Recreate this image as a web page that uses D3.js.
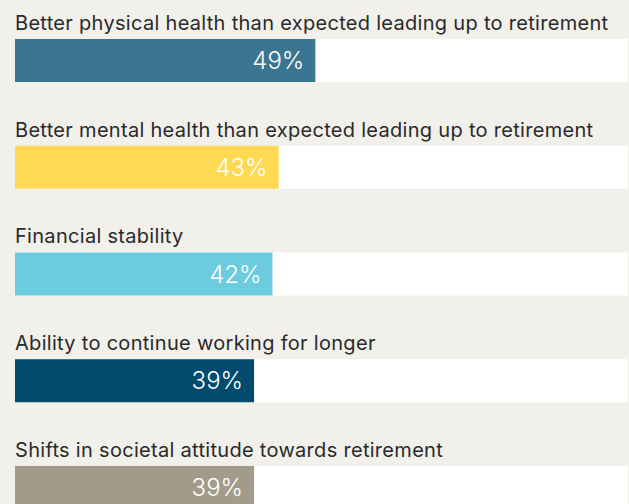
<!DOCTYPE html>
<html>
<head>
<meta charset="utf-8">
<script src="https://cdn.jsdelivr.net/npm/d3@7"></script>
<style>
  html, body { margin: 0; padding: 0; background: #f1f0eb; }
  svg { display: block; }
  .label { font-family: Inter, "Open Sans", sans-serif; font-size: 20px; letter-spacing: 0.3px; fill: #2a2a2a; }
  .value { font-family: Inter, "Open Sans", sans-serif; font-size: 24px; font-weight: 300; fill: #ffffff; }
</style>
</head>
<body>
<div id="chart"></div>
<script>
const categories = [
  "Better physical health than expected leading up to retirement",
  "Better mental health than expected leading up to retirement",
  "Financial stability",
  "Ability to continue working for longer",
  "Shifts in societal attitude towards retirement"
];
const values = [49, 43, 42, 39, 39];
const colors = ["#3a768f", "#ffd952", "#6dcbdf", "#004b6e", "#a39b8a"];

const width = 629, height = 504;
const left = 15, right = 628;

const svg = d3.select("#chart").append("svg")
  .attr("width", width)
  .attr("height", height);

const x = d3.scaleLinear().domain([0, 100]).range([left, right]);
const y = d3.scaleBand()
  .domain(categories)
  .range([39, 509])
  .paddingInner(0.597)
  .paddingOuter(0);

const rows = svg.selectAll("g.row")
  .data(categories).enter()
  .append("g")
    .attr("class", "row");

// white track
rows.append("rect")
  .attr("x", x(0))
  .attr("y", d => y(d))
  .attr("width", x(100) - x(0))
  .attr("height", y.bandwidth())
  .attr("fill", "#ffffff");

// value bar
rows.append("rect")
  .attr("x", x(0))
  .attr("y", d => y(d))
  .attr("width", (d, i) => x(values[i]) - x(0))
  .attr("height", y.bandwidth())
  .attr("fill", (d, i) => colors[i]);

rows.append("text")
  .attr("class", "label")
  .attr("x", x(0))
  .attr("y", d => y(d) - 9)
  .text(d => d);

rows.append("text")
  .attr("class", "value")
  .attr("x", (d, i) => x(values[i]) - 11)
  .attr("y", d => y(d) + y.bandwidth() / 2)
  .attr("dy", "0.36em")
  .attr("text-anchor", "end")
  .text((d, i) => values[i] + "%");
</script>
</body>
</html>
